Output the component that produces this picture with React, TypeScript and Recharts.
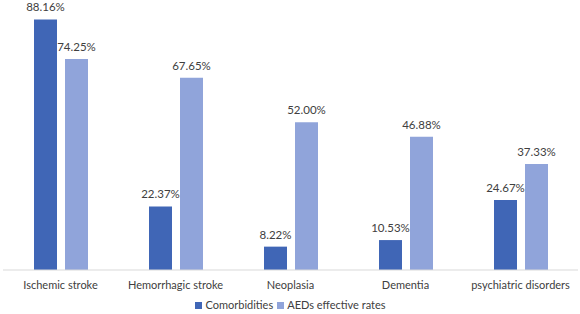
// Comorbidities vs. AED effective rates, grouped bars with percentage labels.
import { Bar, BarChart, LabelList, Legend, XAxis, YAxis } from "recharts";

const CATEGORIES = [
  "Ischemic stroke",
  "Hemorrhagic stroke",
  "Neoplasia",
  "Dementia",
  "psychiatric disorders",
];
const COMORBIDITIES = [88.16, 22.37, 8.22, 10.53, 24.67];
const AED_RATES = [74.25, 67.65, 52.0, 46.88, 37.33];

const SERIES = [
  { key: "comorbidities", label: "Comorbidities", color: "#4066B6" },
  { key: "aed", label: "AEDs effective rates", color: "#90A4DA" },
];

const TEXT = "#404040";
const FONT = "Lato, 'Open Sans', sans-serif";

const data = CATEGORIES.map((name, i) => ({
  name,
  comorbidities: COMORBIDITIES[i],
  aed: AED_RATES[i],
}));

const pct = (v: unknown) => `${Number(v).toFixed(2)}%`;

// Legend drawn by hand so the series keep their own order.
function LegendRow() {
  return (
    <div style={{ display: "flex", justifyContent: "center", alignItems: "center", gap: 4, fontSize: 11, color: TEXT, fontFamily: FONT, lineHeight: "14px" }}>
      {SERIES.map((s) => (
        <span key={s.key} style={{ display: "flex", alignItems: "center", gap: 3 }}>
          <span style={{ width: 7, height: 7, background: s.color, display: "inline-block" }} />
          {s.label}
        </span>
      ))}
    </div>
  );
}

export default function App() {
  return (
    <div style={{ position: "fixed", left: 0, top: 0, width: 580, height: 314, background: "#fff", fontFamily: FONT }}>
      <BarChart
        width={580}
        height={314}
        data={data}
        margin={{ top: 0, right: 2, bottom: 0, left: 3 }}
        barSize={23}
        barGap={8}
      >
        <XAxis
          dataKey="name"
          tickLine={false}
          axisLine={{ stroke: "#D9D9D9" }}
          tick={{ fontSize: 11, fill: TEXT, fontFamily: FONT, dy: 3 }}
          height={28}
          interval={0}
        />
        <YAxis hide domain={[0, 95]} />
        <Legend verticalAlign="bottom" height={16} content={<LegendRow />} />
        {SERIES.map((s) => (
          <Bar key={s.key} dataKey={s.key} name={s.label} fill={s.color} isAnimationActive={false}>
            <LabelList dataKey={s.key} position="top" offset={8} formatter={pct} fill={TEXT} fontSize={11.5} fontFamily={FONT} />
          </Bar>
        ))}
      </BarChart>
    </div>
  );
}
